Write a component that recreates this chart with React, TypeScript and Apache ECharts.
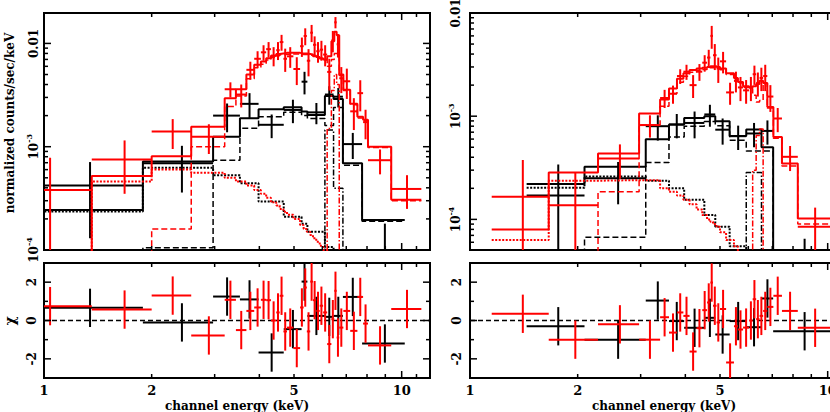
import React, { useEffect, useRef } from "react";
import * as echarts from "echarts";

// ---------- axis ranges ----------
const X_MIN = 1;
const X_MAX = 12;
const LEFT_Y_MIN = 1e-4;
const LEFT_Y_MAX = 0.0197;
const RIGHT_Y_MIN = 5.05e-5;
const RIGHT_Y_MAX = 0.01;
const CHI_MIN = -3;
const CHI_MAX = 3;

// ---------- ticks / labels ----------
const X_TICK_LABELS = [1, 2, 5, 10];
const X_TICKS = [2, 3, 4, 5, 6, 7, 8, 9, 10, 11];
const LOG_DECADES = [1e-5, 1e-4, 1e-3, 1e-2];
const LOG_MULTS = [1, 2, 3, 4, 5, 6, 7, 8, 9];
const CHI_TICKS = [-3, -2, -1, 0, 1, 2, 3];
const X_TITLE = "channel energy (keV)";
const Y_TITLE_TOP = "normalized counts/sec/keV";
const Y_TITLE_BOT = "χ";

// ---------- left panel, black ----------
const L_BK_EDGES = [0.8, 1.89, 2.97, 3.53, 3.98, 4.68, 5.25, 5.45, 6.1, 6.45, 6.85, 7.75, 10.2];
const L_BK_DATA = [4.2e-4, 6.9e-4, 2.0e-3, 2.6e-3, 1.63e-3, 2.27e-3, 4.26e-3, 2.15e-3, 3.2e-3, 3.05e-3, 1.06e-3, 1.0e-4];
const L_BK_ERR = [2.9e-4, 3.3e-4, 6.2e-4, 7.0e-4, 4.2e-4, 5.8e-4, 1.05e-3, 5.0e-4, 6.5e-4, 6.5e-4, 3.0e-4, 8e-5];
const L_BK_MODEL = [2.44e-4, 7.2e-4, 1.25e-3, 1.89e-3, 2.31e-3, 2.41e-3, 2.19e-3, 2.03e-3, 3.1e-3, 2.9e-3, 6.9e-4, 1.95e-4];
const L_BK_DOTTED = [2.36e-4, 6.26e-4, 5.3e-4, 4.43e-4, 2.94e-4, 2.1e-4, 1.8e-4, 1.5e-4, 1.07e-4, 9e-5, 7e-5, 4e-5];
const L_BK_DASHED = [8e-6, 1.05e-4, 7.4e-4, 1.51e-3, 1.95e-3, 2.15e-3, 2.0e-3, 1.88e-3, 1.6e-3, 2.4e-3, 6.6e-4, 1.9e-4];
const L_BK_LINE = [1e-7, 1e-7, 1e-7, 1e-7, 1e-7, 1e-7, 1e-7, 1e-7, 1.45e-3, 3.97e-4, 1e-7, 1e-7];
const L_BK_CHI = [0.66, -0.1, 1.25, 1.1, -1.67, -0.45, 2.03, 0.24, 0.19, 0.24, 1.23, -1.2];

// ---------- left panel, red ----------
const L_RD_EDGES = [0.72, 1.36, 2.0, 2.58, 3.2, 3.44, 3.68, 3.87, 4.04, 4.18, 4.31, 4.46, 4.56, 4.67, 4.78, 4.98, 5.2, 5.32, 5.43, 5.55, 5.65, 5.77, 5.9, 6.03, 6.19, 6.36, 6.48, 6.58, 6.69, 6.87, 7.18, 7.52, 7.8, 8.05, 9.35, 11.35];
const L_RD_DATA = [3.8e-4, 7.5e-4, 1.4e-3, 1.25e-3, 3.6e-3, 3.2e-3, 5.55e-3, 7.1e-3, 8.2e-3, 8.8e-3, 7.6e-3, 8.6e-3, 1.03e-2, 7.1e-3, 7.5e-3, 5.65e-3, 9.4e-3, 1.18e-2, 6.8e-3, 1.27e-2, 9.7e-3, 8.4e-3, 8.7e-3, 7.8e-3, 5.3e-3, 1.07e-2, 1.6e-2, 9.8e-3, 4.6e-3, 4.3e-3, 2.2e-3, 3.3e-3, 1.73e-3, 7.4e-4, 3.9e-4];
const L_RD_ERR = [4e-4, 4e-4, 4.5e-4, 4e-4, 6e-4, 8e-4, 1.1e-3, 1.3e-3, 1.4e-3, 1.5e-3, 1.6e-3, 1.7e-3, 1.8e-3, 1.8e-3, 1.7e-3, 1.7e-3, 2.0e-3, 2.2e-3, 2.0e-3, 2.4e-3, 2.0e-3, 1.9e-3, 1.9e-3, 1.8e-3, 1.8e-3, 2.5e-3, 2.0e-3, 2.5e-3, 1.3e-3, 1.4e-3, 7.5e-4, 1.1e-3, 5.5e-4, 2e-4, 1.4e-4];
const L_RD_MODEL = [8e-5, 5.2e-4, 8.1e-4, 1.56e-3, 2.95e-3, 3.6e-3, 5.0e-3, 6.2e-3, 6.7e-3, 7.2e-3, 7.6e-3, 7.9e-3, 8.0e-3, 8.1e-3, 8.1e-3, 8.1e-3, 8.0e-3, 8.0e-3, 7.9e-3, 7.8e-3, 7.6e-3, 7.4e-3, 7.2e-3, 7.0e-3, 7.5e-3, 1.05e-2, 1.3e-2, 1.2e-2, 5.0e-3, 3.55e-3, 2.6e-3, 1.95e-3, 1.82e-3, 1.0e-3, 3.06e-4];
const L_RD_DOTTED = [5e-5, 4.6e-4, 6.0e-4, 5.6e-4, 5.0e-4, 4.6e-4, 4.2e-4, 3.8e-4, 3.5e-4, 3.2e-4, 2.9e-4, 2.7e-4, 2.5e-4, 2.35e-4, 2.2e-4, 2.0e-4, 1.75e-4, 1.6e-4, 1.5e-4, 1.4e-4, 1.3e-4, 1.2e-4, 1.1e-4, 1.0e-4, 9.5e-5, 9e-5, 8.5e-5, 8e-5, 7.5e-5, 7e-5, 6e-5, 5e-5, 4.5e-5, 4e-5, 3e-5];
const L_RD_DASHED = [1e-6, 6e-5, 1.6e-4, 1.0e-3, 2.45e-3, 3.1e-3, 4.55e-3, 5.8e-3, 6.3e-3, 6.9e-3, 7.3e-3, 7.6e-3, 7.75e-3, 7.85e-3, 7.9e-3, 7.9e-3, 7.8e-3, 7.85e-3, 7.75e-3, 7.65e-3, 7.45e-3, 7.3e-3, 7.1e-3, 6.9e-3, 6.0e-3, 7.0e-3, 8.0e-3, 8.0e-3, 4.9e-3, 3.5e-3, 2.55e-3, 1.9e-3, 1.78e-3, 9.8e-4, 3.0e-4];
const L_RD_LINE = [1e-7, 1e-7, 1e-7, 1e-7, 1e-7, 1e-7, 1e-7, 1e-7, 1e-7, 1e-7, 1e-7, 1e-7, 1e-7, 1e-7, 1e-7, 1e-7, 1e-7, 1e-7, 1e-7, 1e-7, 1e-7, 1e-7, 1e-7, 1e-7, 1.5e-3, 3.5e-3, 5.0e-3, 4.0e-3, 1e-7, 1e-7, 1e-7, 1e-7, 1e-7, 1e-7, 1e-7];
const L_RD_CHI = [0.75, 0.57, 1.3, -0.78, 1.08, -0.5, 0.5, 0.68, 1.08, 1.06, 0, 0.42, 1.29, -0.57, -0.37, -1.44, 0.68, 1.72, -0.57, 2.03, 1.06, 0.5, 0.77, 0.42, -1.23, 0.07, 1.55, -0.89, -0.37, 0.5, -0.54, 1.23, -0.16, -1.3, 0.6];

// ---------- right panel, black ----------
const R_BK_EDGES = [1.44, 2.09, 3.1, 3.6, 3.97, 4.52, 4.85, 5.32, 5.92, 6.53, 7.04, 10.2];
const R_BK_DATA = [1.7e-4, 2.5e-4, 8.0e-4, 8.3e-4, 8.6e-4, 1.04e-3, 7.4e-4, 6.4e-4, 6.8e-4, 7.2e-4, 1.5e-5];
const R_BK_ERR = [1.7e-4, 1.1e-4, 2.2e-4, 2.2e-4, 2.5e-4, 2.5e-4, 2.1e-4, 1.7e-4, 1.8e-4, 1.9e-4, 5e-5];
const R_BK_MODEL = [2.2e-4, 3.23e-4, 5.97e-4, 8.3e-4, 9.6e-4, 1.0e-3, 8.95e-4, 6.42e-4, 7.45e-4, 5.0e-4, 3e-5];
const R_BK_DOTTED = [2.02e-4, 2.6e-4, 2.37e-4, 2.0e-4, 1.55e-4, 1.1e-4, 8.5e-5, 5.5e-5, 4e-5, 3e-5, 1e-5];
const R_BK_DASHED = [1e-5, 6.7e-5, 3.56e-4, 6.3e-4, 8.0e-4, 8.9e-4, 8.1e-4, 5.85e-4, 4.6e-4, 4.6e-4, 2e-5];
const R_BK_LINE = [1e-7, 1e-7, 1e-7, 1e-7, 1e-7, 1e-7, 1e-7, 1e-7, 2.85e-4, 1e-7, 1e-7];
const R_BK_CHI = [-0.3, -1.0, 1.04, -0.03, -0.38, 0.14, -0.73, -0.03, -0.35, 1.15, -0.56];

// ---------- right panel, red ----------
const R_RD_EDGES = [1.15, 1.66, 2.28, 2.97, 3.4, 3.6, 3.79, 3.95, 4.11, 4.3, 4.46, 4.6, 4.7, 4.78, 4.89, 5.0, 5.2, 5.47, 5.61, 5.8, 6.03, 6.17, 6.31, 6.45, 6.6, 6.78, 7.05, 7.45, 8.25, 10.2];
const R_RD_DATA = [1.66e-4, 1.37e-4, 3.9e-4, 8.2e-4, 1.5e-3, 1.65e-3, 2.45e-3, 2.7e-3, 2.0e-3, 2.7e-3, 3.3e-3, 3.7e-3, 6.0e-3, 3.9e-3, 2.9e-3, 3.4e-3, 1.7e-3, 2.2e-3, 1.9e-3, 1.78e-3, 1.9e-3, 2.55e-3, 2.1e-3, 2.35e-3, 2.45e-3, 1.55e-3, 9.5e-4, 4.04e-4, 8.5e-5];
const R_RD_ERR = [2.1e-4, 1.48e-4, 1.43e-4, 2.0e-4, 3.0e-4, 3.3e-4, 4e-4, 4.5e-4, 5e-4, 5e-4, 6e-4, 7e-4, 1.5e-3, 1.1e-3, 8e-4, 8e-4, 4.1e-4, 5e-4, 5e-4, 4.6e-4, 5e-4, 5.4e-4, 5.5e-4, 6e-4, 7e-4, 4.5e-4, 2.5e-4, 1.1e-4, 4.5e-5];
const R_RD_MODEL = [8.0e-5, 2.85e-4, 4.35e-4, 1.06e-3, 1.45e-3, 1.85e-3, 2.3e-3, 2.6e-3, 2.8e-3, 2.9e-3, 2.95e-3, 3.0e-3, 3.05e-3, 3.05e-3, 3.0e-3, 2.9e-3, 2.6e-3, 2.35e-3, 2.15e-3, 1.95e-3, 1.9e-3, 1.95e-3, 2.05e-3, 2.2e-3, 2.1e-3, 1.23e-3, 6.3e-4, 3.48e-4, 1.02e-4];
const R_RD_DOTTED = [6.3e-5, 2.37e-4, 2.4e-4, 2.4e-4, 2.0e-4, 1.85e-4, 1.7e-4, 1.55e-4, 1.4e-4, 1.25e-4, 1.1e-4, 1.0e-4, 9.5e-5, 9e-5, 8.5e-5, 7.5e-5, 6.3e-5, 5.5e-5, 4.8e-5, 4.2e-5, 3.8e-5, 3.5e-5, 3.2e-5, 3e-5, 2.8e-5, 2.5e-5, 2e-5, 1.5e-5, 1e-5];
const R_RD_DASHED = [1e-6, 4e-5, 1.85e-4, 8.2e-4, 1.25e-3, 1.66e-3, 2.13e-3, 2.44e-3, 2.66e-3, 2.77e-3, 2.84e-3, 2.9e-3, 2.95e-3, 2.96e-3, 2.9e-3, 2.82e-3, 2.54e-3, 2.3e-3, 2.1e-3, 1.9e-3, 1.86e-3, 1.6e-3, 1.37e-3, 1.42e-3, 2.07e-3, 1.2e-3, 6.1e-4, 3.3e-4, 9e-5];
const R_RD_LINE = [1e-7, 1e-7, 1e-7, 1e-7, 1e-7, 1e-7, 1e-7, 1e-7, 1e-7, 1e-7, 1e-7, 1e-7, 1e-7, 1e-7, 1e-7, 1e-7, 1e-7, 1e-7, 1e-7, 1e-7, 1e-7, 3.0e-4, 6.5e-4, 7.5e-4, 1e-7, 1e-7, 1e-7, 1e-7, 1e-7];
const R_RD_CHI = [0.35, -1.0, -0.2, -1.0, 0.17, -0.63, 0.42, 0.24, -1.62, -0.4, 0.54, 0.94, 1.98, 0.77, -0.1, 0.6, -2.19, -0.3, -0.47, -0.37, 0, 1.11, 0.07, 0.24, 0.5, 0.71, 1.29, 0.5, -0.38];

// ---------- styling ----------
const BLACK = "#000000";
const RED = "#ff0000";
const FONT = '"DejaVu Serif", serif';
const DASHED = [6, 3];
const DOTTED = [2, 1.5];
const DASHDOT = [6, 2, 1.5, 2];

const steps = (edges: number[], vals: number[]) =>
  vals.flatMap((v, i) => [
    [edges[i], v],
    [edges[i + 1], v],
  ]);

function stepLine(g: number, edges: number[], vals: number[], color: string, width: number, type: any, z: number) {
  return {
    type: "line",
    xAxisIndex: g,
    yAxisIndex: g,
    data: steps(edges, vals),
    symbol: "none",
    showSymbol: false,
    silent: true,
    clip: true,
    z,
    lineStyle: { color, width, type },
  };
}

function crossSeries(g: number, edges: number[], vals: number[], errs: number[] | null, color: string, yFloor: number, z: number) {
  const data = vals.map((v, i) => [edges[i], edges[i + 1], v, errs ? errs[i] : 1]);
  return {
    type: "custom",
    xAxisIndex: g,
    yAxisIndex: g,
    clip: true,
    silent: true,
    z,
    encode: { x: [0, 1], y: 2 },
    data,
    renderItem: (_params: any, api: any) => {
      const lo = api.value(0);
      const hi = api.value(1);
      const v = api.value(2);
      const e = api.value(3);
      const c = (lo + hi) / 2;
      const bottom = yFloor > 0 ? (v - e > 0 ? v - e : yFloor) : v - e;
      const a = api.coord([lo, v]);
      const b = api.coord([hi, v]);
      const t = api.coord([c, v + e]);
      const d = api.coord([c, bottom]);
      const style = { stroke: color, lineWidth: 2 };
      return {
        type: "group",
        children: [
          { type: "line", shape: { x1: a[0], y1: a[1], x2: b[0], y2: b[1] }, style },
          { type: "line", shape: { x1: t[0], y1: t[1], x2: d[0], y2: d[1] }, style },
        ],
      };
    },
  };
}

function logTicks(min: number, max: number) {
  const out: number[][] = [];
  LOG_DECADES.forEach((d) =>
    LOG_MULTS.forEach((m) => {
      const v = d * m;
      if (v > min * 1.0001 && v < max * 0.9999) out.push([v, m === 1 ? 7 : 4]);
    })
  );
  return out;
}

function tickSeries(g: number, xRef: number, yRef: number, yTicks: number[][]) {
  const data: number[][] = [];
  X_TICKS.forEach((v) => data.push([v, yRef, v === 10 ? 7 : 4, 0]));
  yTicks.forEach(([v, len]) => data.push([xRef, v, len, 1]));
  return {
    type: "custom",
    xAxisIndex: g,
    yAxisIndex: g,
    silent: true,
    z: 20,
    encode: { x: 0, y: 1 },
    data,
    renderItem: (params: any, api: any) => {
      const cs = params.coordSys;
      const len = api.value(2);
      const kind = api.value(3);
      const p = api.coord([api.value(0), api.value(1)]);
      const style = { stroke: BLACK, lineWidth: 1.5 };
      if (kind === 0) {
        const x = p[0];
        return {
          type: "group",
          children: [
            { type: "line", shape: { x1: x, y1: cs.y + cs.height, x2: x, y2: cs.y + cs.height - len }, style },
            { type: "line", shape: { x1: x, y1: cs.y, x2: x, y2: cs.y + len }, style },
          ],
        };
      }
      const y = p[1];
      return {
        type: "group",
        children: [
          { type: "line", shape: { x1: cs.x, y1: y, x2: cs.x + len, y2: y }, style },
          { type: "line", shape: { x1: cs.x + cs.width, y1: y, x2: cs.x + cs.width - len, y2: y }, style },
        ],
      };
    },
  };
}

function xLabelSeries(g: number) {
  return {
    type: "custom",
    xAxisIndex: g,
    yAxisIndex: g,
    silent: true,
    z: 20,
    encode: { x: 0, y: 1 },
    data: X_TICK_LABELS.map((v) => [v, CHI_MIN]),
    renderItem: (_params: any, api: any) => {
      const p = api.coord([api.value(0), api.value(1)]);
      return {
        type: "text",
        x: p[0],
        y: p[1] + 6,
        style: {
          text: String(api.value(0)),
          fill: BLACK,
          font: `bold 13px ${FONT}`,
          align: "center",
          verticalAlign: "top",
        },
      };
    },
  };
}

function zeroLine(g: number) {
  return {
    type: "line",
    xAxisIndex: g,
    yAxisIndex: g,
    data: [
      [X_MIN, 0],
      [X_MAX, 0],
    ],
    symbol: "none",
    silent: true,
    z: 2,
    lineStyle: { color: BLACK, width: 1.5, type: [5, 3] },
  };
}

const powFormatter = (v: number) => {
  const l = Math.log10(v);
  const p = Math.round(l);
  if (Math.abs(l - p) > 0.01) return "";
  if (p === -2) return "0.01";
  return `{b|10}{s|${p}}`;
};

const powRich = {
  b: { fontFamily: FONT, fontWeight: "bold", fontSize: 12, lineHeight: 15, color: BLACK, verticalAlign: "bottom" },
  s: { fontFamily: FONT, fontWeight: "bold", fontSize: 8, lineHeight: 9, color: BLACK, verticalAlign: "top" },
};

function logYAxis(g: number, min: number, max: number, margin: number) {
  return {
    type: "log",
    logBase: 10,
    gridIndex: g,
    min,
    max,
    axisLine: { show: false },
    axisTick: { show: false },
    splitLine: { show: false },
    minorTick: { show: false },
    axisLabel: {
      show: true,
      rotate: 90,
      margin,
      color: BLACK,
      fontFamily: FONT,
      fontWeight: "bold",
      fontSize: 12,
      formatter: powFormatter,
      rich: powRich,
    },
  };
}

function chiYAxis(g: number, margin: number) {
  return {
    type: "value",
    gridIndex: g,
    min: CHI_MIN,
    max: CHI_MAX,
    interval: 1,
    axisLine: { show: false },
    axisTick: { show: false },
    splitLine: { show: false },
    axisLabel: {
      show: true,
      rotate: 90,
      margin,
      color: BLACK,
      fontFamily: FONT,
      fontWeight: "bold",
      fontSize: 12,
      formatter: (v: number) => (Math.round(v) % 2 === 0 ? String(Math.round(v)) : ""),
    },
  };
}

function xAxisDef(g: number) {
  return {
    type: "log",
    logBase: 10,
    gridIndex: g,
    min: X_MIN,
    max: X_MAX,
    axisLine: { show: false },
    axisTick: { show: false },
    splitLine: { show: false },
    axisLabel: { show: false },
  };
}

type Set = { edges: number[]; data: number[]; err: number[]; model: number[]; dotted: number[]; dashed: number[]; line: number[]; chi: number[] };

function panelSeries(gTop: number, gBot: number, yMin: number, yMax: number, bk: Set, rd: Set) {
  const floor = yMin * 1e-3;
  return [
    stepLine(gTop, bk.edges, bk.dotted, BLACK, 2, DOTTED, 3),
    stepLine(gTop, bk.edges, bk.dashed, BLACK, 1.5, DASHED, 3),
    stepLine(gTop, bk.edges, bk.line, BLACK, 1.5, DASHDOT, 3),
    stepLine(gTop, bk.edges, bk.model, BLACK, 2, "solid", 4),
    crossSeries(gTop, bk.edges, bk.data, bk.err, BLACK, floor, 5),
    stepLine(gTop, rd.edges, rd.dotted, RED, 2, DOTTED, 6),
    stepLine(gTop, rd.edges, rd.dashed, RED, 1.5, DASHED, 6),
    stepLine(gTop, rd.edges, rd.line, RED, 1.5, DASHDOT, 6),
    stepLine(gTop, rd.edges, rd.model, RED, 2, "solid", 7),
    crossSeries(gTop, rd.edges, rd.data, rd.err, RED, floor, 8),
    zeroLine(gBot),
    crossSeries(gBot, bk.edges, bk.chi, null, BLACK, 0, 5),
    crossSeries(gBot, rd.edges, rd.chi, null, RED, 0, 8),
    tickSeries(gTop, X_MIN, yMin, logTicks(yMin, yMax)),
    tickSeries(gBot, X_MIN, CHI_MIN, CHI_TICKS.filter((v) => v > CHI_MIN && v < CHI_MAX).map((v) => [v, v % 2 === 0 ? 7 : 4])),
    xLabelSeries(gBot),
  ];
}

function buildOption() {
  const frame = {
    show: true,
    borderColor: BLACK,
    borderWidth: 2,
    backgroundColor: "transparent",
    containLabel: false,
    outerBoundsMode: "none",
  };
  return {
    animation: false,
    backgroundColor: "#ffffff",
    textStyle: { fontFamily: FONT, color: BLACK },
    grid: [
      { left: 44, top: 13, width: 386, height: 237, ...frame },
      { left: 44, top: 263, width: 386, height: 115, ...frame },
      { left: 470, top: 13, width: 386, height: 237, ...frame },
      { left: 470, top: 263, width: 386, height: 115, ...frame },
    ],
    xAxis: [xAxisDef(0), xAxisDef(1), xAxisDef(2), xAxisDef(3)],
    yAxis: [
      logYAxis(0, LEFT_Y_MIN, LEFT_Y_MAX, 4),
      chiYAxis(1, 6),
      logYAxis(2, RIGHT_Y_MIN, RIGHT_Y_MAX, 8),
      chiYAxis(3, 7),
    ],
    series: [
      ...panelSeries(
        0,
        1,
        LEFT_Y_MIN,
        LEFT_Y_MAX,
        { edges: L_BK_EDGES, data: L_BK_DATA, err: L_BK_ERR, model: L_BK_MODEL, dotted: L_BK_DOTTED, dashed: L_BK_DASHED, line: L_BK_LINE, chi: L_BK_CHI },
        { edges: L_RD_EDGES, data: L_RD_DATA, err: L_RD_ERR, model: L_RD_MODEL, dotted: L_RD_DOTTED, dashed: L_RD_DASHED, line: L_RD_LINE, chi: L_RD_CHI }
      ),
      ...panelSeries(
        2,
        3,
        RIGHT_Y_MIN,
        RIGHT_Y_MAX,
        { edges: R_BK_EDGES, data: R_BK_DATA, err: R_BK_ERR, model: R_BK_MODEL, dotted: R_BK_DOTTED, dashed: R_BK_DASHED, line: R_BK_LINE, chi: R_BK_CHI },
        { edges: R_RD_EDGES, data: R_RD_DATA, err: R_RD_ERR, model: R_RD_MODEL, dotted: R_RD_DOTTED, dashed: R_RD_DASHED, line: R_RD_LINE, chi: R_RD_CHI }
      ),
    ],
    graphic: [
      {
        type: "text",
        x: 10,
        y: 123,
        rotation: Math.PI / 2,
        style: { text: Y_TITLE_TOP, fill: BLACK, font: `bold 12px ${FONT}`, align: "center", verticalAlign: "middle" },
      },
      {
        type: "text",
        x: 10,
        y: 321,
        rotation: Math.PI / 2,
        style: { text: Y_TITLE_BOT, fill: BLACK, font: `bold 14px ${FONT}`, align: "center", verticalAlign: "middle" },
      },
      {
        type: "text",
        x: 237,
        y: 400,
        style: { text: X_TITLE, fill: BLACK, font: `bold 12px ${FONT}`, align: "center", verticalAlign: "top" },
      },
      {
        type: "text",
        x: 664,
        y: 400,
        style: { text: X_TITLE, fill: BLACK, font: `bold 12px ${FONT}`, align: "center", verticalAlign: "top" },
      },
    ],
  };
}

export default function App() {
  const ref = useRef<HTMLDivElement>(null);
  useEffect(() => {
    if (!ref.current) return;
    const chart = echarts.init(ref.current, null, { renderer: "svg" });
    chart.setOption(buildOption() as any);
    return () => chart.dispose();
  }, []);
  return (
    <div
      ref={ref}
      style={{ position: "fixed", left: 0, top: 0, width: 830, height: 412, background: "#ffffff", overflow: "hidden" }}
    />
  );
}
